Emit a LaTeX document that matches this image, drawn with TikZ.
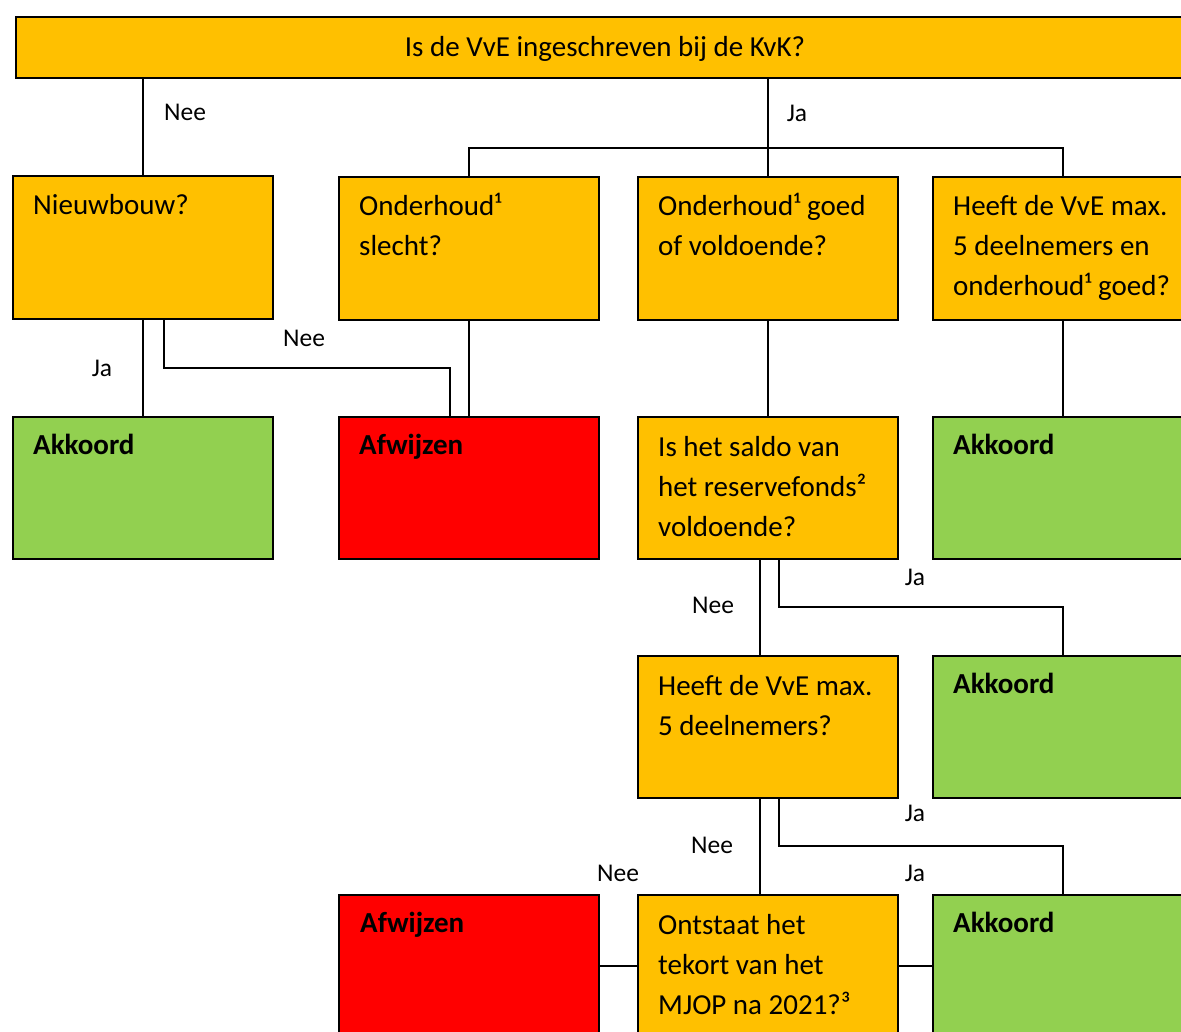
\documentclass[tikz,border=0pt]{standalone}
\usepackage{fontspec}
\setmainfont{Carlito}
\usetikzlibrary{calc}
\definecolor{qorange}{HTML}{FFC000}
\definecolor{qgreen}{HTML}{92D050}
\definecolor{qred}{HTML}{FF0000}
\tikzset{
  boxbase/.style={draw=black, line width=2pt, rectangle, anchor=north west, inner sep=0pt, minimum width=260pt, minimum height=143pt},
  qbox/.style={boxbase, fill=qorange},
  okbox/.style={boxbase, fill=qgreen},
  nobox/.style={boxbase, fill=qred},
  btxt/.style={anchor=base west, inner sep=0pt, font=\fontsize{29}{40}\selectfont},
  bold/.style={btxt, font=\fontsize{29}{40}\selectfont\bfseries},
  lbl/.style={inner sep=0pt, font=\fontsize{25.5}{30}\selectfont},
  conn/.style={line width=2pt, black}
}
\newcommand{\lines}[1]{\begin{tabular}[t]{@{}l@{}}#1\end{tabular}}
\begin{document}
\begin{tikzpicture}[x=1pt, y=-1pt]
\useasboundingbox (0,0) rectangle (1181,1032);
\clip (0,0) rectangle (1181,1032);
% boxes
\node[qbox, minimum width=1180pt, minimum height=61pt] (top) at (15,16) {};
\node[btxt, anchor=base] (ttop) at (605,57) {Is de VvE ingeschreven bij de KvK?};

\node[qbox] (n1) at (12,175) {};
\node[qbox] (n2) at (338,176) {};
\node[qbox] (n3) at (637,176) {};
\node[qbox] (n4) at (932,176) {};

\node[okbox, minimum height=142pt] (a1) at (12,416) {};
\node[nobox, minimum height=142pt] (r1) at (338,416) {};
\node[qbox, minimum height=142pt] (n5) at (637,416) {};
\node[okbox, minimum height=142pt] (a2) at (932,416) {};

\node[qbox, minimum height=142pt] (n6) at (637,655) {};
\node[okbox, minimum height=142pt] (a3) at (932,655) {};

\node[nobox, minimum height=142pt] (r2) at (338,894) {};
\node[qbox, minimum height=142pt] (n7) at (637,894) {};
\node[okbox, minimum height=142pt] (a4) at (932,894) {};

% texts
\node[btxt] (t1) at ($(n1.north west)+(21,40)$) {\lines{Nieuwbouw?}};
\node[btxt] (t2) at ($(n2.north west)+(21,40)$) {\lines{Onderhoud¹\\slecht?}};
\node[btxt] (t3) at ($(n3.north west)+(21,40)$) {\lines{Onderhoud¹ goed\\of voldoende?}};
\node[btxt] (t4) at ($(n4.north west)+(21,40)$) {\lines{Heeft de VvE max.\\5 deelnemers en\\onderhoud¹ goed?}};
\node[bold] (ta1) at ($(a1.north west)+(21,38)$) {Akkoord};
\node[bold] (tr1) at ($(r1.north west)+(21,38)$) {Afwijzen};
\node[btxt] (t5) at ($(n5.north west)+(21,40)$) {\lines{Is het saldo van\\het reservefonds²\\voldoende?}};
\node[bold] (ta2) at ($(a2.north west)+(21,38)$) {Akkoord};
\node[btxt] (t6) at ($(n6.north west)+(21,40)$) {\lines{Heeft de VvE max.\\5 deelnemers?}};
\node[bold] (ta3) at ($(a3.north west)+(21,38)$) {Akkoord};
\node[bold] (tr2) at ($(r2.north west)+(22,38)$) {Afwijzen};
\node[btxt] (t7) at ($(n7.north west)+(21,40)$) {\lines{Ontstaat het\\tekort van het\\MJOP na 2021?³}};
\node[bold] (ta4) at ($(a4.north west)+(21,38)$) {Akkoord};

% connectors
\draw[conn] (top.south -| n1.north) -- (n1.north);
\draw[conn] (top.south -| n3.north) -- (n3.north);
\draw[conn] (n2.north) -- ($(n2.north)+(0,-28)$) -| (n4.north);
\draw[conn] (n1.south) -- (a1.north);
\draw[conn] ($(n1.south)+(21,0)$) |- ($(r1.north)+(-19,-48)$) -- ($(r1.north)+(-19,0)$);
\draw[conn] (n2.south) -- (r1.north);
\draw[conn] (n3.south) -- (n5.north);
\draw[conn] (n4.south) -- (a2.north);
\draw[conn] ($(n5.south)+(-8,0)$) -- ($(n6.north)+(-8,0)$);
\draw[conn] ($(n5.south)+(11,0)$) |- ($(a3.north)+(0,-48)$) -- (a3.north);
\draw[conn] ($(n6.south)+(-8,0)$) -- ($(n7.north)+(-8,0)$);
\draw[conn] ($(n6.south)+(11,0)$) |- ($(a4.north)+(0,-48)$) -- (a4.north);
\draw[conn] (n7.west) -- (r2.east);
\draw[conn] (n7.east) -- (a4.west);

% labels
\node[lbl] (l1) at (185,112) {Nee};
\node[lbl] (l2) at (797,113) {Ja};
\node[lbl] (l3) at (102,368) {Ja};
\node[lbl] (l4) at (304,338) {Nee};
\node[lbl] (l5) at (713,605) {Nee};
\node[lbl] (l6) at (915,577) {Ja};
\node[lbl] (l7) at (712,845) {Nee};
\node[lbl] (l8) at (915,813) {Ja};
\node[lbl] (l9) at (618,873) {Nee};
\node[lbl] (l10) at (915,873) {Ja};
\end{tikzpicture}
\end{document}
